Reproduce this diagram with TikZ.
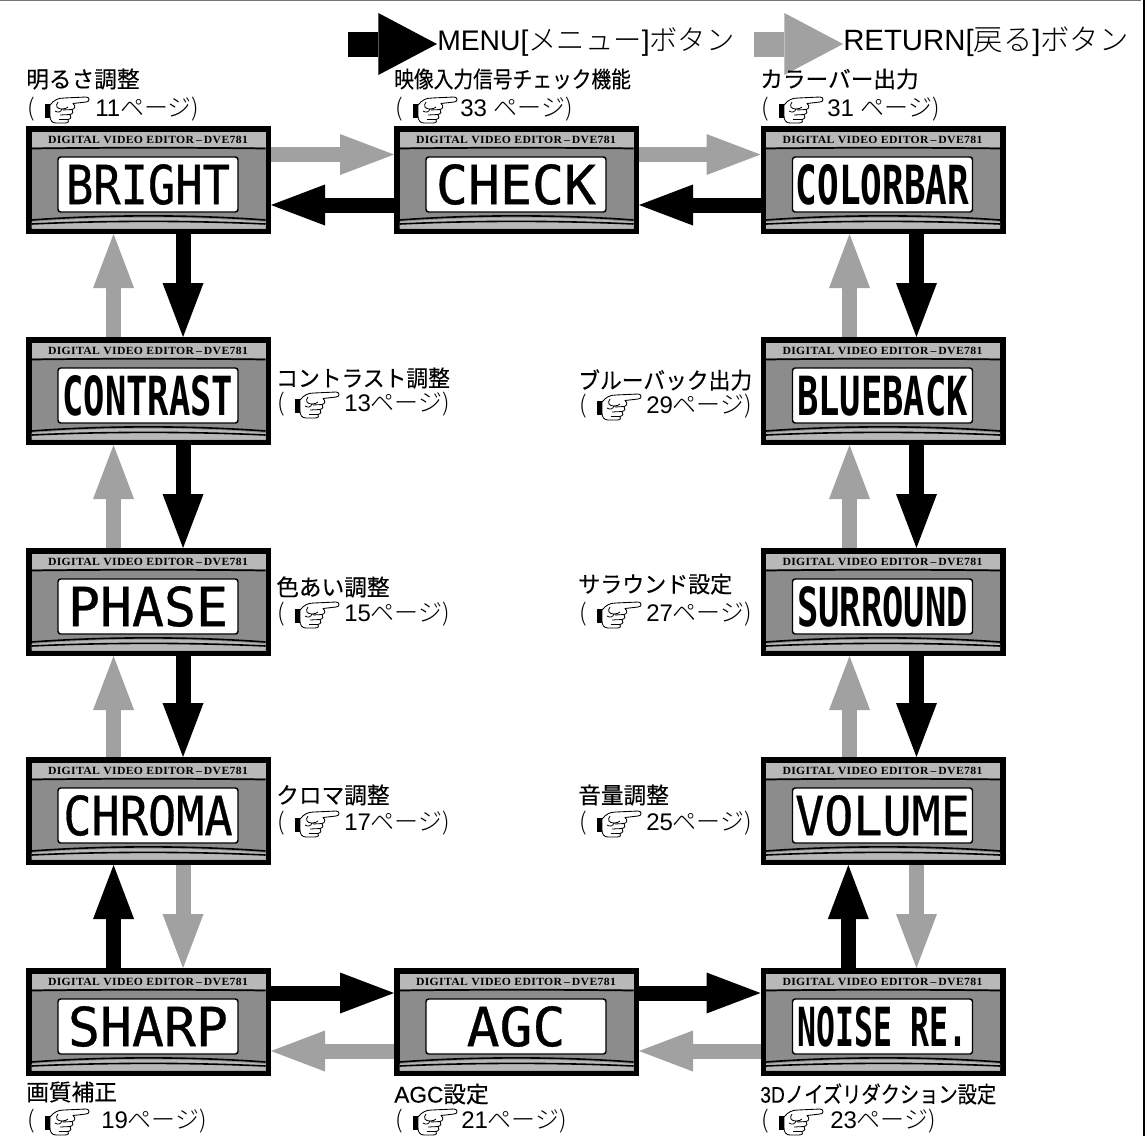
\documentclass[tikz,border=0pt]{standalone}
\usepackage{fontspec}
\usepackage{graphicx}
\usetikzlibrary{arrows.meta}
\newfontfamily\jpfont{Noto Sans CJK JP}
\newfontfamily\jpbold[FakeBold=0.25]{Noto Sans CJK JP}
\newfontfamily\jplight{Noto Sans CJK JP Light}
\newfontfamily\latfont{Liberation Sans}
\newfontfamily\latbold[FakeBold=0.25]{Liberation Sans}
\newfontfamily\lcdfont{DejaVu Sans Mono Bold}
\newfontfamily\lcdthin[FakeBold=0.6]{DejaVu Sans Mono}
\newfontfamily\headfont[LetterSpace=3]{Liberation Serif Bold}
\definecolor{darkp}{gray}{0.55}
\definecolor{headp}{gray}{0.72}
\definecolor{retgray}{gray}{0.63}
\tikzset{
 x=0.75pt,y=-0.75pt,
 panelbox/.style={rectangle,fill=black,minimum width=183.75pt,minimum height=81pt,inner sep=0pt,outer sep=0pt},
 lcdbox/.style={rectangle,rounded corners=2pt,fill=white,draw=black,line width=1.1pt,minimum width=135pt,minimum height=41.25pt,inner sep=0pt},
 headtext/.style={inner sep=0pt,font=\headfont},
 titletext/.style={anchor=west,inner sep=0pt,font=\jpbold\fontsize{17}{17}\selectfont},
 reftext/.style={anchor=west,inner sep=0pt,font=\jplight\fontsize{18}{18}\selectfont},
 legendtext/.style={anchor=west,inner sep=0pt,font=\jplight\fontsize{24}{24}\selectfont},
 menuarrow/.style={draw=black,line width=11.25pt,-{Triangle[length=40.5pt,width=30.75pt,fill=black,line width=0pt]}},
 retarrow/.style={draw=retgray,line width=11.25pt,-{Triangle[length=40.5pt,width=30.75pt,fill=retgray,line width=0pt]}},
 menulegend/.style={draw=black,line width=18.75pt,-{Triangle[length=44pt,width=46.5pt,fill=black,line width=0pt]}},
 retlegend/.style={draw=retgray,line width=18.75pt,-{Triangle[length=44pt,width=46.5pt,fill=retgray,line width=0pt]}},
}
\newcommand\lat[1]{{\latfont #1}}
\newcommand\panel[6]{% name x y font text textwidth(pt)
 \node[panelbox] (#1) at ({#2+122.5},{#3+54}) {};
 \begin{scope}[shift={(#2,#3)}]
  \fill[darkp] (5.5,5.5) rectangle (239.5,102.5);
  \fill[headp] (5.5,5.5) rectangle (239.5,21);
  \draw[black,line width=1.3pt] (5.5,22.5) .. controls (80,21.5) and (165,21.5) .. (239.5,22.5);
  \fill[headp] (5.5,102.5) -- (5.5,96) .. controls (80,90) and (165,90) .. (239.5,96) -- (239.5,102.5) -- cycle;
  \draw[black,line width=1.2pt] (5.5,94) .. controls (80,88.5) and (165,88.5) .. (239.5,94);
  \draw[black,line width=1.2pt] (5.5,98) .. controls (80,94.5) and (165,94.5) .. (239.5,98);
  \node[headtext] (#1-h) at (122,13.5) {\resizebox{150pt}{5.5pt}{DIGITAL VIDEO EDITOR\,–\,DVE781}};
  \node[lcdbox] (#1-l) at (122,58.5) {\resizebox{#6pt}{30pt}{#4#5}};
 \end{scope}
}
\newcommand\handicon[2]{%
 \begin{scope}[shift={(#1,#2)}]
  \fill[black] (19,-6) rectangle (24,8);
  \draw[black,fill=white,line width=0.65pt,line join=round]
   (24,-5) .. controls (28,-10) and (32,-12) .. (38,-12) -- (60,-13)
   .. controls (64,-13) and (64,-8) .. (60,-8) -- (47,-6.5)
   .. controls (50,-4) and (49,-1) .. (46,-0.5) .. controls (48,1) and (47,4) .. (44,4.5)
   .. controls (46,6) and (45,9) .. (42,9.5) .. controls (44,11) and (42,13) .. (39,13)
   -- (30,13) .. controls (26,13) and (24,10) .. (24,6) -- cycle;
  \draw[black,line width=0.6pt] (32,-8) .. controls (29,-4) and (31,-1) .. (36,-1) .. controls (39,-1) and (41,-2) .. (42,-3)
   (36,-1) .. controls (35,2) and (32,3) .. (29,1)
   (37,0) -- (46,-0.5) (34,5) -- (44,4.5) (33,9.5) -- (42,9.5);
 \end{scope}
}
\newcommand\refln[5]{% name x y text offset
 \node[reftext] (#1-p) at ({#2+1},{#3-1}) {(};
 \handicon{#2}{#3}
 \node[reftext] (#1-r) at ({#2+#5},{#3-1}) {#4};
}
\begin{document}
\begin{tikzpicture}
\useasboundingbox (0,0) rectangle (1146,1136);
\fill[white] (0,0) rectangle (1146,1136);
\draw[black!55,line width=1.2pt] (0,0.5) -- (1141,0.5);
\draw[black,line width=1.5pt] (1144,0) -- (1144,1136);

\panel{bright}{26}{126}{\lcdthin}{BRIGHT}{123}
\panel{check}{394}{126}{\lcdthin}{CHECK}{120}
\panel{colorbar}{760.5}{126}{\lcdfont}{COLORBAR}{130}
\panel{contrast}{26}{337}{\lcdfont}{CONTRAST}{128}
\panel{blueback}{760.5}{337}{\lcdfont}{BLUEBACK}{128}
\panel{phase}{26}{548}{\lcdthin}{PHASE}{120}
\panel{surround}{760.5}{548}{\lcdfont}{SURROUND}{128}
\panel{chroma}{26}{757}{\lcdthin}{CHROMA}{127}
\panel{volume}{760.5}{757}{\lcdthin}{VOLUME}{131}
\panel{sharp}{26}{968}{\lcdthin}{SHARP}{120}
\panel{agc}{394}{968}{\lcdthin}{AGC}{74}
\panel{noise}{760.5}{968}{\lcdfont}{NOISE RE.}{128}

% top row
\draw[retarrow] ([yshift=19.1pt]bright.east) -- ([yshift=19.1pt]check.west);
\draw[retarrow] ([yshift=19.1pt]check.east) -- ([yshift=19.1pt]colorbar.west);
\draw[menuarrow] ([yshift=-18.75pt]check.west) -- ([yshift=-18.75pt]bright.east);
\draw[menuarrow] ([yshift=-18.75pt]colorbar.west) -- ([yshift=-18.75pt]check.east);
% left column
\draw[menuarrow] ([xshift=25.9pt]bright.south) -- ([xshift=25.9pt]contrast.north);
\draw[retarrow] ([xshift=-26.2pt]contrast.north) -- ([xshift=-26.2pt]bright.south);
\draw[menuarrow] ([xshift=25.9pt]contrast.south) -- ([xshift=25.9pt]phase.north);
\draw[retarrow] ([xshift=-26.2pt]phase.north) -- ([xshift=-26.2pt]contrast.south);
\draw[menuarrow] ([xshift=25.9pt]phase.south) -- ([xshift=25.9pt]chroma.north);
\draw[retarrow] ([xshift=-26.2pt]chroma.north) -- ([xshift=-26.2pt]phase.south);
\draw[menuarrow] ([xshift=-26.2pt]sharp.north) -- ([xshift=-26.2pt]chroma.south);
\draw[retarrow] ([xshift=25.9pt]chroma.south) -- ([xshift=25.9pt]sharp.north);
% right column
\draw[menuarrow] ([xshift=25.1pt]colorbar.south) -- ([xshift=25.1pt]blueback.north);
\draw[retarrow] ([xshift=-25.1pt]blueback.north) -- ([xshift=-25.1pt]colorbar.south);
\draw[menuarrow] ([xshift=25.1pt]blueback.south) -- ([xshift=25.1pt]surround.north);
\draw[retarrow] ([xshift=-25.1pt]surround.north) -- ([xshift=-25.1pt]blueback.south);
\draw[menuarrow] ([xshift=25.1pt]surround.south) -- ([xshift=25.1pt]volume.north);
\draw[retarrow] ([xshift=-25.1pt]volume.north) -- ([xshift=-25.1pt]surround.south);
\draw[menuarrow] ([xshift=-26pt]noise.north) -- ([xshift=-26pt]volume.south);
\draw[retarrow] ([xshift=25.1pt]volume.south) -- ([xshift=25.1pt]noise.north);
% bottom row
\draw[menuarrow] ([yshift=21.75pt]sharp.east) -- ([yshift=21.75pt]agc.west);
\draw[menuarrow] ([yshift=21.75pt]agc.east) -- ([yshift=21.75pt]noise.west);
\draw[retarrow] ([yshift=-21.75pt]agc.west) -- ([yshift=-21.75pt]sharp.east);
\draw[retarrow] ([yshift=-21.75pt]noise.west) -- ([yshift=-21.75pt]agc.east);

% legend
\coordinate (m0) at (348,44); \coordinate (m1) at (437,44);
\coordinate (r0) at (754,44); \coordinate (r1) at (843,44);
\draw[menulegend] (m0) -- (m1);
\draw[retlegend] (r0) -- (r1);
\node[legendtext] (menulabel) at (437,42) {\resizebox{223pt}{!}{\lat{MENU[}メニュー\lat{]}ボタン}};
\node[legendtext] (retlabel) at (843,42) {\resizebox{214pt}{!}{\lat{RETURN[}戻る\lat{]}ボタン}};

% labels
\node[titletext] (t1) at (26,79) {明るさ調整};
\refln{r1a}{26}{110}{\lat{11}ページ)}{69}
\node[titletext] (t2) at (394,79) {\scalebox{.87}[1]{映像入力信号チェック機能}};
\refln{r2a}{394}{110}{\lat{33 }ページ)}{66}
\node[titletext] (t3) at (760,79) {カラーバー出力};
\refln{r3a}{760}{110}{\lat{31 }ページ)}{67}
\node[titletext] (t4) at (276,378) {\scalebox{.96}[1]{コントラスト調整}};
\refln{r4a}{276}{405}{\lat{13}ページ)}{68}
\node[titletext] (t5) at (578,380) {\scalebox{.96}[1]{ブルーバック出力}};
\refln{r5a}{578}{407}{\lat{29}ページ)}{68}
\node[titletext] (t6) at (276,587) {色あい調整};
\refln{r6a}{276}{615}{\lat{15}ページ)}{68}
\node[titletext] (t7) at (578,584) {\scalebox{.97}[1]{サラウンド設定}};
\refln{r7a}{578}{615}{\lat{27}ページ)}{68}
\node[titletext] (t8) at (276,795) {クロマ調整};
\refln{r8a}{276}{824}{\lat{17}ページ)}{68}
\node[titletext] (t9) at (578,795) {音量調整};
\refln{r9a}{578}{824}{\lat{25}ページ)}{68}
\node[titletext] (t10) at (26,1092) {画質補正};
\refln{r10a}{26}{1122}{\lat{19}ページ)}{75}
\node[titletext] (t11) at (394,1094) {{\latbold AGC}設定};
\refln{r11a}{394}{1122}{\lat{21}ページ)}{67}
\node[titletext] (t12) at (760,1094) {\scalebox{.85}[1]{{\latbold 3D}ノイズリダクション設定}};
\refln{r12a}{760}{1122}{\lat{23}ページ)}{70}
\end{tikzpicture}
\end{document}
